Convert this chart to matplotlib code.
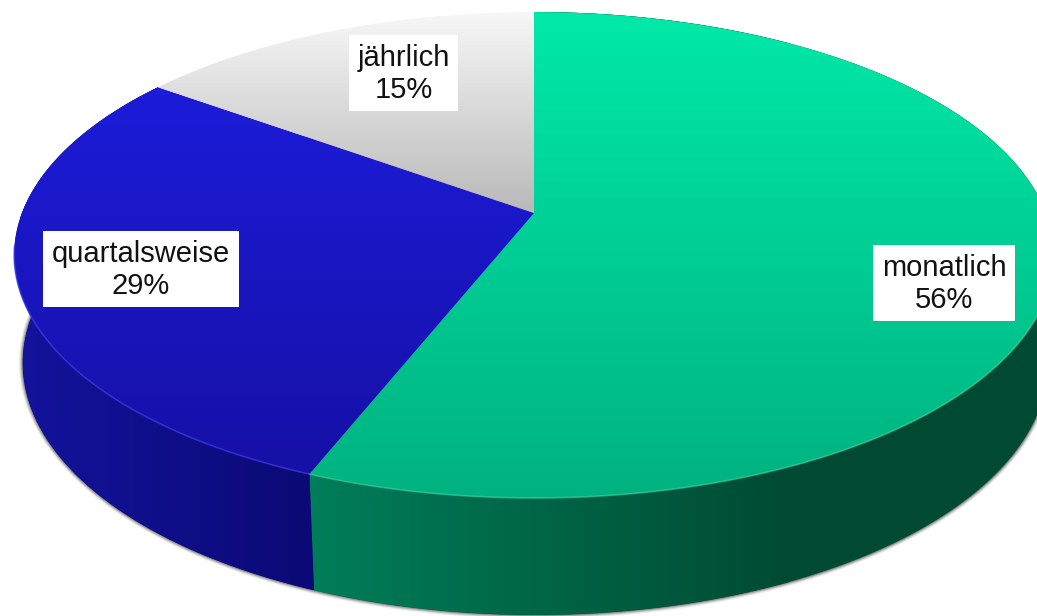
import numpy as np
import matplotlib
matplotlib.use("Agg")
import matplotlib.pyplot as plt
from matplotlib.patches import PathPatch, Rectangle
from matplotlib.path import Path

plt.rcParams['font.family'] = ['Liberation Sans', 'DejaVu Sans']

labels = ["monatlich", "quartalsweise", "jährlich"]
shares = [56, 29, 15]

top_from = ["#00e9a8", "#1c1cd9", "#f7f7f7"]
top_to = ["#00b280", "#1610a6", "#b9b9b9"]
wall_from = ["#007f5a", "#13139c"]
wall_to = ["#004a33", "#0b0974"]
rim_colors = ["#33cfa0", "#3a3ae6"]
rim_start = [100, 201.6]
rim_stop = [201.6, 262]
wall_span = [(300, 790), (20, 320)]

label_x = [944, 141, 403.5]
label_y = [283, 269, 73]
box_w = [142, 196, 109]
box_h = [76, 76, 76]

W, H = 1037, 616
TILT = 0.1728  # perspective of the pie disc


def rim(theta, x0, y0, a, b):
    # theta in degrees, clockwise from the top of the pie
    t = np.radians(theta)
    w = 1 + TILT * np.cos(t)
    return x0 + a * np.sin(t) / w, y0 - b * np.cos(t) / w


def top_rim(theta):
    return rim(theta, 534, 213, 512, 235.7)


def bottom_rim(theta):
    return rim(theta, 535.5, 319.4, 505, 244.5)


def gradient_fill(ax, verts, c1, c2, extent, vertical, zorder):
    # gradient image clipped to the polygon
    f = np.linspace(0, 1, 256)[:, None]
    img = np.array(matplotlib.colors.to_rgb(c1)) * (1 - f) + np.array(matplotlib.colors.to_rgb(c2)) * f
    img = img[:, None, :] if vertical else img[None, :, :]
    patch = PathPatch(Path(verts), facecolor="none", edgecolor="none", zorder=zorder)
    ax.add_patch(patch)
    im = ax.imshow(img, extent=extent, origin="upper", aspect="auto", zorder=zorder,
                   interpolation="bilinear")
    im.set_clip_path(patch)


fig = plt.figure(figsize=(W / 100, H / 100), dpi=100)
ax = fig.add_axes([0, 0, 1, 1])
ax.axis("off")

# soft shadow under the pie
full = np.linspace(0, 360, 400)
for grow, alpha in zip([4, 3, 2, 1], [0.06, 0.10, 0.16, 0.24]):
    bx, by = bottom_rim(full)
    sx = 536 + (bx - 536) * (1 + grow / 510)
    sy = 363 + (by - 363) * (1 + grow / 252)
    ax.fill(sx, sy, color="black", alpha=alpha, lw=0, zorder=1)

edges = np.concatenate([[0], np.cumsum(shares)]) * 3.6

# walls first, the top disc covers their back half
for i in range(2):
    th = np.linspace(edges[i], edges[i + 1], 200)
    tx, ty = top_rim(th)
    bx, by = bottom_rim(th)
    verts = np.vstack([np.c_[tx, ty], np.c_[bx, by][::-1], [[tx[0], ty[0]]]])
    # flat colour behind the gradient so nothing shows past its end
    ax.fill(verts[:, 0], verts[:, 1], color=wall_to[i], lw=0, zorder=1.5)
    x1, x2 = wall_span[i]
    mask = verts[(verts[:, 0] < x2 + 1000)]
    gradient_fill(ax, np.c_[np.clip(mask[:, 0], x1, x2), mask[:, 1]],
                  wall_from[i], wall_to[i], (x1, x2, H, 0), False, 2)

# top slices
for i in range(len(shares)):
    th = np.linspace(edges[i], edges[i + 1], 200)
    tx, ty = top_rim(th)
    verts = np.vstack([[[534, 213]], np.c_[tx, ty], [[534, 213]]])
    y_low = 213 if i == 2 else ty.max()
    gradient_fill(ax, verts, top_from[i], top_to[i], (0, W, y_low, ty.min()), True, 3)

# light rim where the top disc meets the wall
for i in range(2):
    tx, ty = top_rim(np.linspace(rim_start[i], rim_stop[i], 200))
    ax.plot(tx, ty, color=rim_colors[i], lw=1.2, alpha=0.7, zorder=3.5)

for i, name in enumerate(labels):
    ax.add_patch(Rectangle((label_x[i] - box_w[i] / 2, label_y[i] - box_h[i] / 2), box_w[i], box_h[i],
                           facecolor="white", edgecolor="none", zorder=4))
    ax.text(label_x[i], label_y[i] + 1, f"{name}\n{shares[i]}%", fontsize=21, color="#111111",
            ha="center", va="center", linespacing=1.2, zorder=5)

ax.set_xlim(0, W)
ax.set_ylim(H, 0)
fig.savefig("out.png", dpi=100, facecolor="white")
